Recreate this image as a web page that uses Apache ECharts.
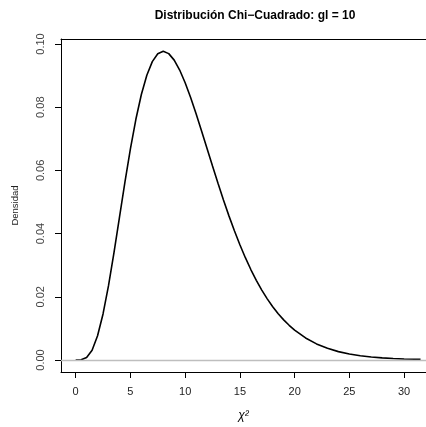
<!DOCTYPE html>
<html><head><meta charset="utf-8">
<script src="https://cdn.jsdelivr.net/npm/echarts@6/dist/echarts.min.js"></script>
<style>html,body{margin:0;padding:0;background:#fff}#c{width:426px;height:427px}</style>
</head><body><div id="c"></div>
<script>
// Chi-square density, gl = 10
const xVals = [0,0.5,1,1.5,2,2.5,3,3.5,4,4.5,5,5.5,6,6.5,7,7.5,8,8.5,9,9.5,10,10.5,11,11.5,12,12.5,13,13.5,14,14.5,15,15.5,16,16.5,17,17.5,18,18.5,19,19.5,20,21,22,23,24,25,26,27,28,29,30,31,31.5];
const yVals = [0,0.00006,0.00079,0.00311,0.00766,0.01457,0.02353,0.03395,0.04511,0.05628,0.06680,0.07617,0.08402,0.09012,0.09441,0.09689,0.09768,0.09695,0.09490,0.09176,0.08773,0.08305,0.07791,0.07248,0.06693,0.06137,0.05591,0.05064,0.04561,0.04088,0.03646,0.03237,0.02863,0.02521,0.02213,0.01935,0.01687,0.01466,0.01270,0.01098,0.00946,0.00697,0.00509,0.00369,0.00265,0.00190,0.00135,0.00095,0.00067,0.00046,0.00032,0.00022,0.00018];
const xTicks = [0,5,10,15,20,25,30];
const yTicks = [0,0.02,0.04,0.06,0.08,0.10];

const font = '"Liberation Sans", Arial, Helvetica, sans-serif';
const chart = echarts.init(document.getElementById('c'), null, {renderer:'canvas'});
chart.setOption({
  animation:false,
  title:{text:'Distribución Chi\u2212Cuadrado: gl = 10', left:250, textAlign:'center', top:5,
    textStyle:{fontFamily:font, fontSize:12, fontWeight:'bold', color:'#000'}},
  grid:{left:61, right:0, top:39, bottom:55, show:false},
  xAxis:[{type:'value', min:-1.34, max:32.0, splitLine:{show:false},
    axisLine:{show:true, onZero:false, lineStyle:{color:'#000', width:1}},
    axisTick:{show:true, length:6, customValues:xTicks, lineStyle:{color:'#000', width:1}},
    axisLabel:{customValues:xTicks, margin:14, fontFamily:font, fontSize:11, color:'#222'},
    name:'\u03c7\u00b2', nameLocation:'middle', nameGap:38,
    nameTextStyle:{fontFamily:font, fontSize:12, color:'#000', fontStyle:'italic'}},
   {type:'value', position:'top', min:-1.34, max:32.0, splitLine:{show:false},
    axisLine:{show:true, onZero:false, lineStyle:{color:'#000', width:1}},
    axisTick:{show:false}, axisLabel:{show:false}}],
  yAxis:{type:'value', min:-0.0038, max:0.10158, splitLine:{show:false},
    axisLine:{show:true, onZero:false, lineStyle:{color:'#000', width:1}},
    axisTick:{show:true, length:6, customValues:yTicks, lineStyle:{color:'#000', width:1}},
    axisLabel:{customValues:yTicks, rotate:90, margin:15, fontFamily:font, fontSize:11, color:'#444',
      formatter:v=>v.toFixed(2)},
    name:'Densidad', nameLocation:'middle', nameGap:41, nameRotate:90,
    nameTextStyle:{fontFamily:font, fontSize:9.5, color:'#222'}},
  series:[{type:'line', data:xVals.map((x,i)=>[x,yVals[i]]), showSymbol:false, smooth:false,
    lineStyle:{color:'#000', width:1.6},
    markLine:{silent:true, symbol:['none','none'], label:{show:false},
      lineStyle:{color:'#bebebe', width:1.3, type:'solid'}, data:[{yAxis:0}]}}]
});
</script></body></html>
